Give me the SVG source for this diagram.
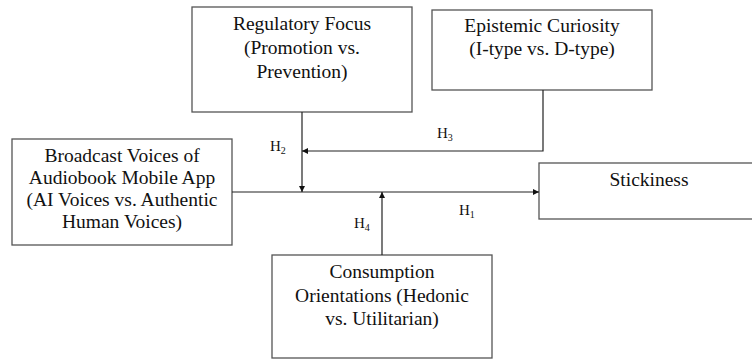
<svg xmlns="http://www.w3.org/2000/svg" width="752" height="360" viewBox="0 0 752 360">
  <style>
    .box { fill: #fff; stroke: #555; stroke-width: 1.3; }
    .lbl { font-family: "Liberation Serif", "Times New Roman", serif; font-size: 19.5px; fill: #111; text-anchor: middle; }
    .h { font-family: "Liberation Serif", "Times New Roman", serif; font-size: 15px; fill: #111; }
    .sub { font-size: 10px; }
    .wire { stroke: #222; stroke-width: 1.2; fill: none; }
  </style>
  <defs>
    <marker id="arrow" viewBox="0 0 8 8" refX="8" refY="4" markerWidth="6" markerHeight="6" markerUnits="userSpaceOnUse" orient="auto">
      <path d="M0,0 L8,4 L0,8 Z" fill="#111"/>
    </marker>
  </defs>

  <rect width="752" height="360" fill="#fff"/>

  <g id="regulatory-focus">
    <rect class="box" x="192" y="7" width="220" height="105"/>
    <text class="lbl" x="302" y="30">Regulatory Focus</text>
    <text class="lbl" x="302" y="54">(Promotion vs.</text>
    <text class="lbl" x="302" y="78">Prevention)</text>
  </g>

  <g id="epistemic-curiosity">
    <rect class="box" x="432" y="10" width="220" height="80"/>
    <text class="lbl" x="542" y="32">Epistemic Curiosity</text>
    <text class="lbl" x="542" y="55">(I-type vs. D-type)</text>
  </g>

  <g id="broadcast-voices">
    <rect class="box" x="12" y="139" width="220" height="106"/>
    <text class="lbl" x="122" y="162">Broadcast Voices of</text>
    <text class="lbl" x="122" y="184">Audiobook Mobile App</text>
    <text class="lbl" x="122" y="206">(AI Voices vs. Authentic</text>
    <text class="lbl" x="122" y="228">Human Voices)</text>
  </g>

  <!-- runs off the right edge of the canvas -->
  <g id="stickiness">
    <rect class="box" x="539" y="163" width="222" height="56"/>
    <text class="lbl" x="649" y="186">Stickiness</text>
  </g>

  <g id="consumption-orientations">
    <rect class="box" x="272" y="255" width="220" height="103"/>
    <text class="lbl" x="382" y="278">Consumption</text>
    <text class="lbl" x="382" y="302">Orientations (Hedonic</text>
    <text class="lbl" x="382" y="325">vs. Utilitarian)</text>
  </g>

  <g id="connectors">
    <line class="wire" x1="232" y1="192" x2="539" y2="192" marker-end="url(#arrow)"/>
    <line class="wire" x1="302" y1="112" x2="302" y2="192" marker-end="url(#arrow)"/>
    <polyline class="wire" points="543,90 543,151 302,151" marker-end="url(#arrow)"/>
    <line class="wire" x1="382" y1="255" x2="382" y2="192" marker-end="url(#arrow)"/>

    <text class="h" x="270" y="151">H<tspan class="sub" dy="3">2</tspan></text>
    <text class="h" x="437" y="138">H<tspan class="sub" dy="3">3</tspan></text>
    <text class="h" x="354" y="228">H<tspan class="sub" dy="3">4</tspan></text>
    <text class="h" x="459" y="215">H<tspan class="sub" dy="3">1</tspan></text>
  </g>
</svg>
